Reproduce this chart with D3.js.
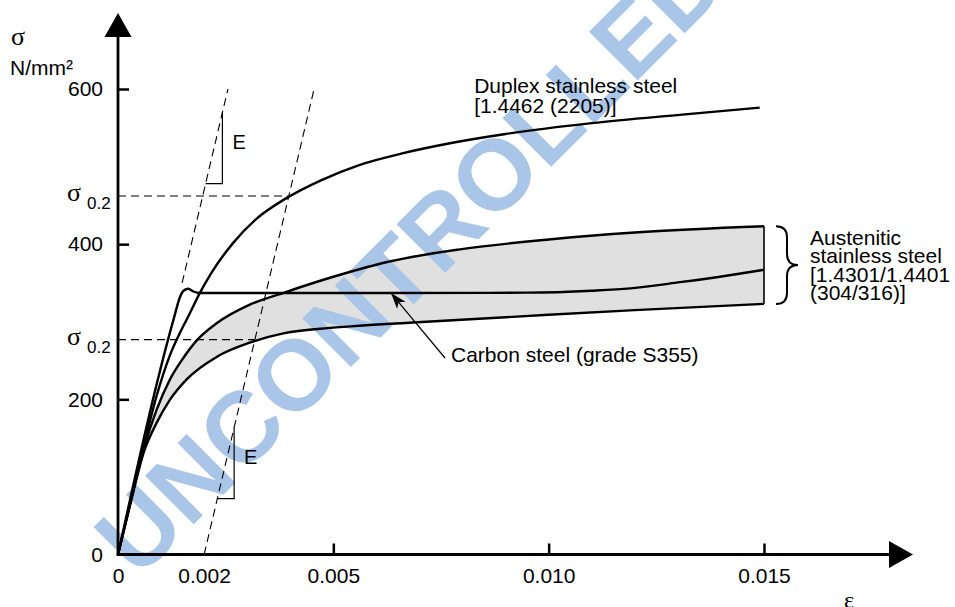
<!DOCTYPE html>
<html>
<head>
<meta charset="utf-8">
<script src="https://cdn.jsdelivr.net/npm/d3@7"></script>
<style>
body { margin:0; background:#fff; }
svg { display:block; font-family:"Liberation Sans", Arial, sans-serif; }
</style>
</head>
<body>
<svg id="chart" width="955" height="607"></svg>
<script>
// strain (-) , stress (N/mm²)
var carbonSteel = [[0,0],[0.00130,305],[0.00144,332],[0.00152,340],[0.00163,342.5],[0.00175,339],[0.0019,337],[0.003,337],[0.006,337],[0.0095,337.5],[0.011,340],[0.0119,343],[0.01305,351],[0.0142,360],[0.015,367]];
var duplexSteel = [[0,0],[0.0005,117],[0.0009,205],[0.0012,256],[0.00145,287],[0.00166,310],[0.00188,335],[0.00218,364],[0.00268,402],[0.0032,432],[0.0039,459],[0.0047,482],[0.0056,502],[0.0066,517],[0.0078,531],[0.009,542],[0.011,556],[0.0131,567],[0.0149,576]];
var austeniticUpper = [[0,0],[0.0003,70],[0.0006,137],[0.0009,187],[0.0012,225],[0.0015,252],[0.00183,276],[0.00229,298],[0.00306,322],[0.00388,338],[0.005,358],[0.00633,378],[0.0079,393],[0.010,406],[0.012,415],[0.015,423]];
var austeniticLower = [[0,0],[0.0003,68],[0.0006,132],[0.0009,170],[0.0012,199],[0.0016,226],[0.0023,255],[0.00306,273],[0.00384,285],[0.0047,291],[0.0054,294],[0.00685,299],[0.010,309],[0.012,315],[0.015,323]];

// axis ticks and labels
var xTicks = [0.005, 0.010, 0.015];
var xLabels = [0, 0.002, 0.005, 0.010, 0.015];
var yTicks = [200, 400, 600];
var yLabels = [0, 200, 400, 600];

// elastic modulus used for the dashed lines (N/mm² per unit strain)
var modulus = 235000;
var proofOffset = 0.002;
var proofStress = [462, 277];   // duplex, austenitic
var slopeMarks = [{offset:0, stress:478}, {offset:0.002, stress:72}];
var slopeStep = 0.00039;

var svg = d3.select("#chart");

var x = d3.scaleLinear().domain([0, 0.015]).range([118, 764]);
var y = d3.scaleLinear().domain([0, 600]).range([554.5, 89]);

var line = d3.line()
    .x(function(d){ return x(d[0]); })
    .y(function(d){ return y(d[1]); })
    .curve(d3.curveMonotoneX);

var area = d3.area()
    .x(function(d){ return x(d[0]); })
    .y0(y(0))
    .y1(function(d){ return y(d[1]); })
    .curve(d3.curveMonotoneX);

// grey band between the austenitic curves
svg.append("path")
    .attr("d", area(austeniticUpper) + area(austeniticLower))
    .attr("fill", "#e0e0e0")
    .attr("fill-rule", "evenodd");

// watermark
svg.append("text")
    .attr("transform", "translate(138,580) rotate(-45)")
    .attr("font-size", 100)
    .attr("font-weight", "bold")
    .attr("fill", "#a9c6e9")
    .text("UNCONTROLLED COPY");

// dashed elastic lines
var dashed = svg.append("g")
    .attr("stroke", "#000")
    .attr("stroke-width", 1.1)
    .attr("stroke-dasharray", "8,5")
    .attr("fill", "none");

dashed.append("line")
    .attr("x1", x(350 / modulus)).attr("y1", y(350))
    .attr("x2", x(600 / modulus)).attr("y2", y(600));

dashed.append("line")
    .attr("x1", x(proofOffset)).attr("y1", y(0))
    .attr("x2", x(proofOffset + 600 / modulus)).attr("y2", y(600));

proofStress.forEach(function(s){
    dashed.append("line")
        .attr("x1", x(0)).attr("y1", y(s))
        .attr("x2", x(proofOffset + s / modulus)).attr("y2", y(s));
});

// slope triangles with E
slopeMarks.forEach(function(m){
    var e0 = m.offset + m.stress / modulus;
    var e1 = e0 + slopeStep;
    var top = m.stress + slopeStep * modulus;
    svg.append("path")
        .attr("d", "M" + x(e0) + "," + y(m.stress) + "H" + x(e1) + "V" + y(top))
        .attr("fill", "none")
        .attr("stroke", "#000")
        .attr("stroke-width", 1.2);
    svg.append("text")
        .attr("x", x(e1) + 10)
        .attr("y", (y(m.stress) + y(top)) / 2 + 1)
        .attr("font-size", 20)
        .text("E");
});

// the curves
[carbonSteel, duplexSteel, austeniticUpper, austeniticLower].forEach(function(s){
    svg.append("path")
        .attr("d", line(s))
        .attr("fill", "none")
        .attr("stroke", "#000")
        .attr("stroke-width", 2.4);
});

// right edge of the band
svg.append("line")
    .attr("x1", x(0.015)).attr("y1", y(austeniticUpper[austeniticUpper.length - 1][1]))
    .attr("x2", x(0.015)).attr("y2", y(austeniticLower[austeniticLower.length - 1][1]))
    .attr("stroke", "#000")
    .attr("stroke-width", 1.6);

// axes
var xAxis = d3.axisBottom(x)
    .tickValues(xLabels)
    .tickSize(-11)
    .tickPadding(14)
    .tickFormat(function(d){ return d === 0 ? "0" : d3.format(".3f")(d); });

var gx = svg.append("g")
    .attr("transform", "translate(0," + y(0) + ")")
    .call(xAxis);
gx.select(".domain").remove();
gx.selectAll(".tick line")
    .filter(function(d){ return xTicks.indexOf(d) < 0; })
    .remove();

var yAxis = d3.axisLeft(y)
    .tickValues(yLabels)
    .tickSize(-11)
    .tickPadding(15);

var gy = svg.append("g")
    .attr("transform", "translate(" + x(0) + ",0)")
    .call(yAxis);
gy.select(".domain").remove();
gy.selectAll(".tick line")
    .filter(function(d){ return yTicks.indexOf(d) < 0; })
    .remove();

[gx, gy].forEach(function(g){
    g.selectAll(".tick line").attr("stroke", "#000").attr("stroke-width", 2.5);
    g.selectAll("text")
        .attr("fill", "#000")
        .style("font-size", "21px")
        .style("font-family", "'Liberation Sans', Arial, sans-serif");
});

svg.append("line")
    .attr("x1", x(0)).attr("y1", y(0))
    .attr("x2", x(0)).attr("y2", 36)
    .attr("stroke", "#000").attr("stroke-width", 2.8);
svg.append("line")
    .attr("x1", x(0) - 1.4).attr("y1", y(0))
    .attr("x2", 890).attr("y2", y(0))
    .attr("stroke", "#000").attr("stroke-width", 2.8);
svg.append("path")
    .attr("d", "M" + x(0) + ",13L" + (x(0) - 13.5) + ",37L" + (x(0) + 13.5) + ",37Z")
    .attr("fill", "#000");
svg.append("path")
    .attr("d", "M913," + y(0) + "L889," + (y(0) - 13.5) + "L889," + (y(0) + 13.5) + "Z")
    .attr("fill", "#000");

// axis titles
svg.append("text")
    .attr("x", 11).attr("y", 45)
    .attr("font-family", "'Liberation Serif', serif")
    .attr("font-size", 26)
    .text("σ");
svg.append("text")
    .attr("x", 10).attr("y", 75)
    .attr("font-size", 21)
    .text("N/mm²");
svg.append("text")
    .attr("x", 844).attr("y", 608)
    .attr("font-family", "'Liberation Serif', serif")
    .attr("font-size", 24)
    .text("ε");

// proof stress labels
proofStress.forEach(function(s){
    var t = svg.append("text").attr("y", y(s) + 5);
    t.append("tspan")
        .attr("x", 67)
        .attr("font-family", "'Liberation Serif', serif")
        .attr("font-size", 26)
        .text("σ");
    t.append("tspan")
        .attr("x", 87)
        .attr("dy", 8)
        .attr("font-size", 17)
        .text("0.2");
});

// series labels
var duplexLabel = svg.append("text")
    .attr("font-size", 21);
duplexLabel.append("tspan").attr("x", x(0.00827)).attr("y", y(0) - 461.5).text("Duplex stainless steel");
duplexLabel.append("tspan").attr("x", x(0.00827)).attr("dy", 20).text("[1.4462 (2205)]");

var austLabel = svg.append("text")
    .attr("font-size", 21);
["Austenitic", "stainless steel", "[1.4301/1.4401", "(304/316)]"].forEach(function(s, i){
    austLabel.append("tspan")
        .attr("x", 810)
        .attr("y", 245 + i * 18.4)
        .text(s);
});

// brace for the austenitic band
var bTop = y(austeniticUpper[austeniticUpper.length - 1][1]);
var bBot = y(austeniticLower[austeniticLower.length - 1][1]);
var bMid = (bTop + bBot) / 2;
svg.append("path")
    .attr("d", "M776," + bTop + "Q787," + bTop + " 787," + (bTop + 11) +
               "L787," + (bMid - 11) + "Q787," + bMid + " 798," + bMid +
               "Q787," + bMid + " 787," + (bMid + 11) +
               "L787," + (bBot - 11) + "Q787," + bBot + " 776," + bBot)
    .attr("fill", "none")
    .attr("stroke", "#000")
    .attr("stroke-width", 2);

// carbon steel label with pointer
svg.append("defs").append("marker")
    .attr("id", "head")
    .attr("viewBox", "-17 -7 18 14")
    .attr("refX", 0).attr("refY", 0)
    .attr("markerWidth", 18).attr("markerHeight", 14)
    .attr("markerUnits", "userSpaceOnUse")
    .attr("orient", "auto")
    .append("path")
    .attr("d", "M0,0L-16,-5.5L-12,0L-16,5.5Z")
    .attr("fill", "#000");

svg.append("line")
    .attr("x1", 445).attr("y1", 358)
    .attr("x2", x(0.00634)).attr("y2", y(337))
    .attr("stroke", "#000")
    .attr("stroke-width", 1.2)
    .attr("marker-end", "url(#head)");

svg.append("text")
    .attr("x", 451).attr("y", 362)
    .attr("font-size", 21)
    .text("Carbon steel (grade S355)");
</script>
</body>
</html>
